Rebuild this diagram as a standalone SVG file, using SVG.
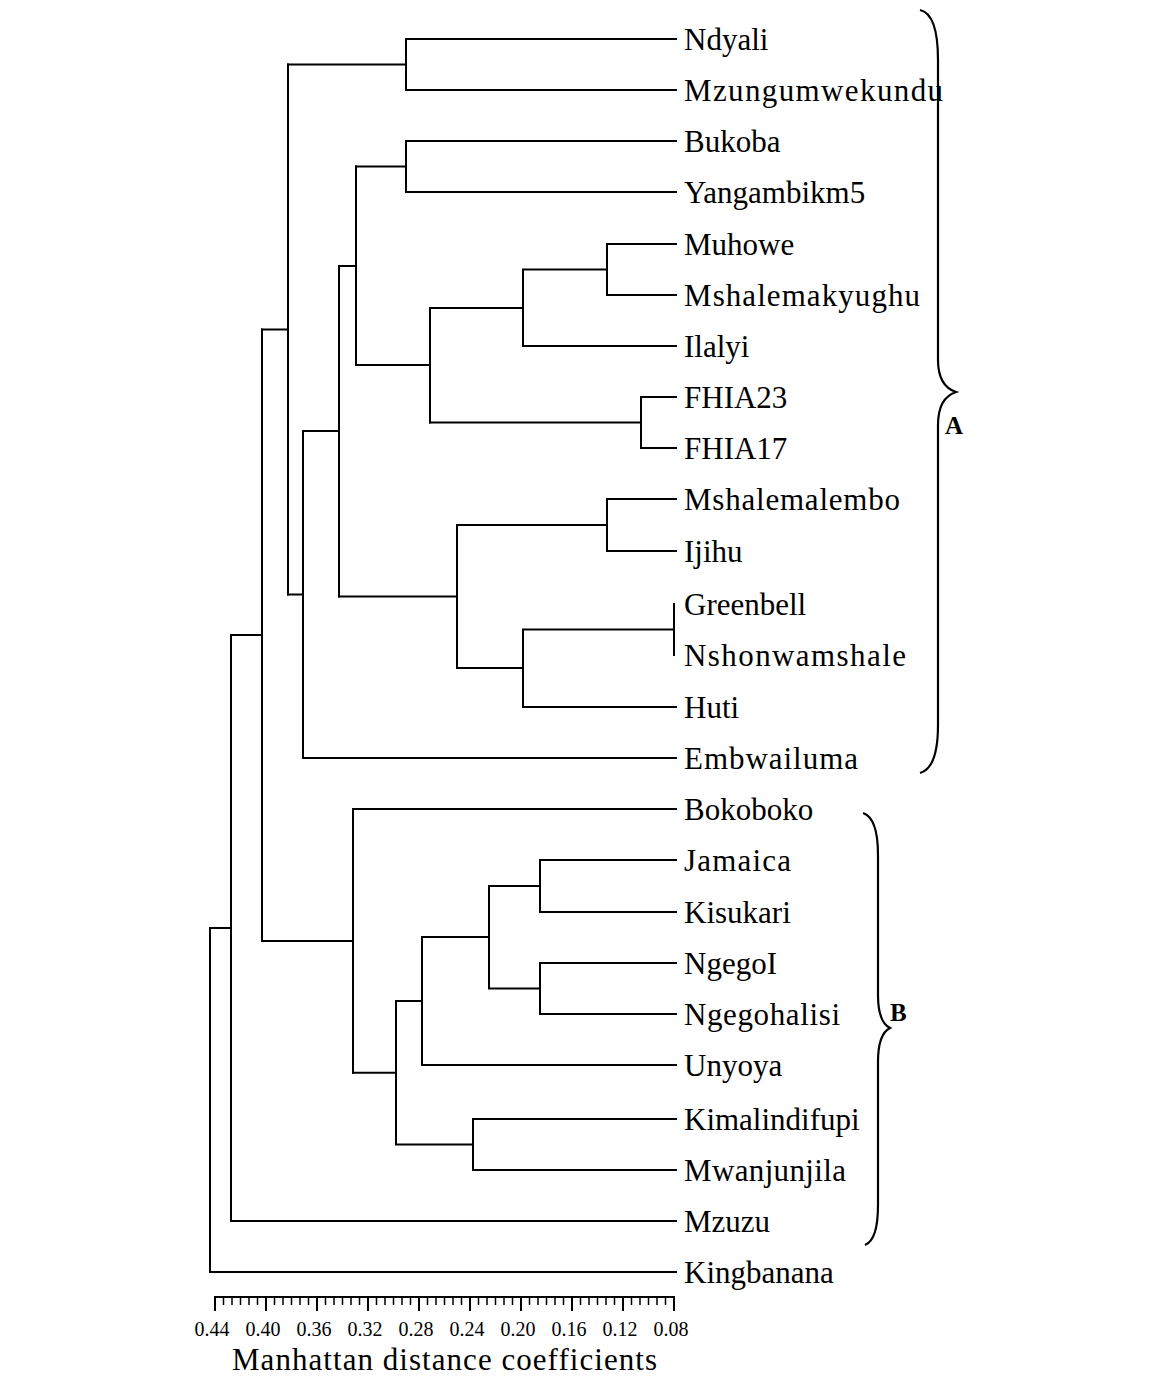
<svg xmlns="http://www.w3.org/2000/svg" width="1151" height="1377" viewBox="0 0 1151 1377">
<style>
.e{fill:none;stroke:#000;stroke-width:2;stroke-linecap:square}
.b{fill:none;stroke:#000;stroke-width:2.2}
.t{font-family:"Liberation Serif","Times New Roman",serif;font-size:31px;fill:#000}
.ax{font-family:"Liberation Serif","Times New Roman",serif;font-size:20px;fill:#000;text-anchor:middle}
.lb{font-family:"Liberation Serif","Times New Roman",serif;font-size:25px;font-weight:bold;fill:#000}
</style>
<rect width="1151" height="1377" fill="#fff"/>
<g id="connectors">
<path class="e" d="M406,39V90M406,39H676M406,90H676"/>
<path class="e" d="M406,141V192M406,141H676M406,192H676"/>
<path class="e" d="M607,244V295M607,244H676M607,295H676"/>
<path class="e" d="M641,397V448M641,397H676M641,448H676"/>
<path class="e" d="M607,499V551M607,499H676M607,551H676"/>
<path class="e" d="M674,604V655"/>
<path class="e" d="M540,860V912M540,860H676M540,912H676"/>
<path class="e" d="M540,963V1014M540,963H676M540,1014H676"/>
<path class="e" d="M473,1119V1170M473,1119H676M473,1170H676"/>
<path class="e" d="M288,64.5H406"/>
<path class="e" d="M356,166.5H406"/>
<path class="e" d="M523,269.5H607M523,269.5V346M523,346H676"/>
<path class="e" d="M430,308H523"/>
<path class="e" d="M430,422.5H641"/>
<path class="e" d="M430,308V422.5M356,365H430"/>
<path class="e" d="M356,166.5V365M339,266H356"/>
<path class="e" d="M457,525H607"/>
<path class="e" d="M523,629.5H674M523,629.5V707M523,707H676"/>
<path class="e" d="M457,668H523M457,525V668M339,596.5H457"/>
<path class="e" d="M339,266V596.5M303,431H339"/>
<path class="e" d="M303,431V758M303,758H676M288,594.5H303"/>
<path class="e" d="M288,64.5V594.5M262,329.5H288"/>
<path class="e" d="M489,886H540M489,988.5H540M489,886V988.5M422,937H489"/>
<path class="e" d="M422,937V1065M422,1065H676M396,1001H422"/>
<path class="e" d="M396,1144.5H473M396,1001V1144.5M353,1072.8H396"/>
<path class="e" d="M353,809V1072.8M353,809H676M262,941H353"/>
<path class="e" d="M262,329.5V941M231,635H262"/>
<path class="e" d="M231,635V1221M231,1221H676M210,928H231"/>
<path class="e" d="M210,928V1272M210,1272H676"/>
</g>
<g id="leaves">
<g id="n-ndyali"><text class="t" x="684" y="50">Ndyali</text></g>
<g id="n-mzungumwekundu"><text class="t" x="684" y="101" textLength="259" lengthAdjust="spacing">Mzungumwekundu</text></g>
<g id="n-bukoba"><text class="t" x="684" y="152">Bukoba</text></g>
<g id="n-yangambikm5"><text class="t" x="684" y="203">Yangambikm5</text></g>
<g id="n-muhowe"><text class="t" x="684" y="255">Muhowe</text></g>
<g id="n-mshalemakyughu"><text class="t" x="684" y="306" textLength="236" lengthAdjust="spacing">Mshalemakyughu</text></g>
<g id="n-ilalyi"><text class="t" x="684" y="357">Ilalyi</text></g>
<g id="n-fhia23"><text class="t" x="684" y="408">FHIA23</text></g>
<g id="n-fhia17"><text class="t" x="684" y="459">FHIA17</text></g>
<g id="n-mshalemalembo"><text class="t" x="684" y="510" textLength="216" lengthAdjust="spacing">Mshalemalembo</text></g>
<g id="n-ijihu"><text class="t" x="684" y="562">Ijihu</text></g>
<g id="n-greenbell"><text class="t" x="684" y="615">Greenbell</text></g>
<g id="n-nshonwamshale"><text class="t" x="684" y="666" textLength="222" lengthAdjust="spacing">Nshonwamshale</text></g>
<g id="n-huti"><text class="t" x="684" y="718">Huti</text></g>
<g id="n-embwailuma"><text class="t" x="684" y="769" textLength="174" lengthAdjust="spacing">Embwailuma</text></g>
<g id="n-bokoboko"><text class="t" x="684" y="820">Bokoboko</text></g>
<g id="n-jamaica"><text class="t" x="684" y="871" textLength="107" lengthAdjust="spacing">Jamaica</text></g>
<g id="n-kisukari"><text class="t" x="684" y="923">Kisukari</text></g>
<g id="n-ngegoi"><text class="t" x="684" y="974">NgegoI</text></g>
<g id="n-ngegohalisi"><text class="t" x="684" y="1025" textLength="156" lengthAdjust="spacing">Ngegohalisi</text></g>
<g id="n-unyoya"><text class="t" x="684" y="1076">Unyoya</text></g>
<g id="n-kimalindifupi"><text class="t" x="684" y="1130">Kimalindifupi</text></g>
<g id="n-mwanjunjila"><text class="t" x="684" y="1181" textLength="162" lengthAdjust="spacing">Mwanjunjila</text></g>
<g id="n-mzuzu"><text class="t" x="684" y="1232">Mzuzu</text></g>
<g id="n-kingbanana"><text class="t" x="684" y="1283">Kingbanana</text></g>
</g>
<g id="group-a">
<path class="b" d="M920,10Q938,14 938,60L938,360Q938,386 956,392Q938,398 938,425L938,725Q938,768 920,773"/>
<text class="lb" x="945" y="434">A</text>
</g>
<g id="group-b">
<path class="b" d="M863,813Q878,818 878,855L878,995Q878,1022 890,1028Q878,1034 878,1062L878,1205Q878,1240 865,1245"/>
<text class="lb" x="890" y="1021">B</text>
</g>
<g id="axis">
<path class="e" d="M215,1297H674"/>
<path stroke="#000" stroke-width="2" d="M215,1296V1311M266,1296V1311M317,1296V1311M368,1296V1311M419,1296V1311M470,1296V1311M521,1296V1311M572,1296V1311M623,1296V1311M674,1296V1311"/>
<path stroke="#000" stroke-width="1.5" d="M223.5,1297V1305M232,1297V1305M240.5,1297V1305M249,1297V1305M257.5,1297V1305M274.5,1297V1305M283,1297V1305M291.5,1297V1305M300,1297V1305M308.5,1297V1305M325.5,1297V1305M334,1297V1305M342.5,1297V1305M351,1297V1305M359.5,1297V1305M376.5,1297V1305M385,1297V1305M393.5,1297V1305M402,1297V1305M410.5,1297V1305M427.5,1297V1305M436,1297V1305M444.5,1297V1305M453,1297V1305M461.5,1297V1305M478.5,1297V1305M487,1297V1305M495.5,1297V1305M504,1297V1305M512.5,1297V1305M529.5,1297V1305M538,1297V1305M546.5,1297V1305M555,1297V1305M563.5,1297V1305M580.5,1297V1305M589,1297V1305M597.5,1297V1305M606,1297V1305M614.5,1297V1305M631.5,1297V1305M640,1297V1305M648.5,1297V1305M657,1297V1305M665.5,1297V1305"/>
<text class="ax" x="212" y="1336">0.44</text>
<text class="ax" x="263" y="1336">0.40</text>
<text class="ax" x="314" y="1336">0.36</text>
<text class="ax" x="365" y="1336">0.32</text>
<text class="ax" x="416" y="1336">0.28</text>
<text class="ax" x="467" y="1336">0.24</text>
<text class="ax" x="518" y="1336">0.20</text>
<text class="ax" x="569" y="1336">0.16</text>
<text class="ax" x="620" y="1336">0.12</text>
<text class="ax" x="671" y="1336">0.08</text>
<text x="232" y="1370" font-family="Liberation Serif, Times New Roman, serif" font-size="31" textLength="425" lengthAdjust="spacing">Manhattan distance coefficients</text>
</g>
</svg>
